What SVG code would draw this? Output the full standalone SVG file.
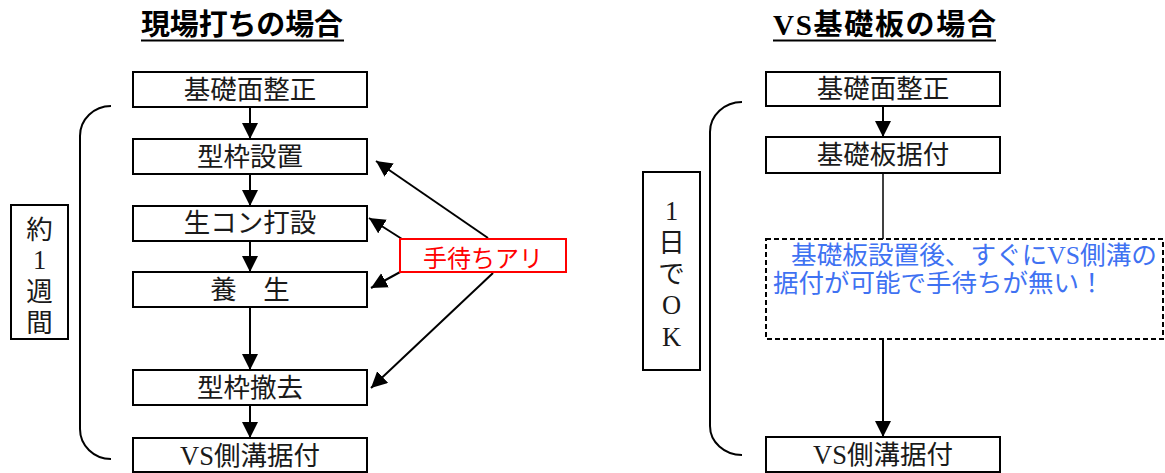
<svg xmlns="http://www.w3.org/2000/svg" width="1165" height="473" viewBox="0 0 1165 473">
<defs>
<style>
.box{fill:#fff;stroke:#000;stroke-width:2}
.t{font-family:"Liberation Serif","Noto Sans CJK JP",serif;font-size:26.5px;fill:#1a1a1a;text-anchor:middle}
.title{font-family:"Liberation Serif","Noto Sans CJK JP",sans-serif;font-weight:bold;font-size:29px;fill:#000}
.ln{stroke:#000;stroke-width:2;fill:none}
.red{font-family:"Liberation Serif","Noto Sans CJK JP",serif;font-size:24px;fill:#ff0000;text-anchor:middle}
.blue{font-family:"Liberation Serif","Noto Sans CJK JP",serif;font-size:25.5px;fill:#3f72f2}
</style>
<marker id="ah" markerUnits="userSpaceOnUse" markerWidth="17" markerHeight="17" refX="16" refY="8" orient="auto">
<path d="M0,0 L16,8 L0,16 z" fill="#000"/>
</marker>
</defs>
<rect width="1165" height="473" fill="#fff"/>

<g id="title-left">
<text class="title" x="141" y="35" textLength="202" lengthAdjust="spacing">現場打ちの場合</text>
<line x1="141" y1="40.5" x2="344" y2="40.5" stroke="#000" stroke-width="2"/>
</g>
<g id="title-right">
<text class="title" x="773" y="35" textLength="223" lengthAdjust="spacing">VS基礎板の場合</text>
<line x1="773" y1="40.5" x2="996" y2="40.5" stroke="#000" stroke-width="2"/>
</g>

<g id="connectors">
<line class="ln" x1="250" y1="107" x2="250" y2="139" marker-end="url(#ah)"/>
<line class="ln" x1="250" y1="174" x2="250" y2="206" marker-end="url(#ah)"/>
<line class="ln" x1="250" y1="241" x2="250" y2="272" marker-end="url(#ah)"/>
<line class="ln" x1="250" y1="307" x2="250" y2="370" marker-end="url(#ah)"/>
<line class="ln" x1="250" y1="405" x2="250" y2="438" marker-end="url(#ah)"/>
<line class="ln" x1="488" y1="238" x2="376" y2="161" marker-end="url(#ah)"/>
<line class="ln" x1="402" y1="239" x2="369" y2="218" marker-end="url(#ah)"/>
<line class="ln" x1="402" y1="271" x2="371" y2="288" marker-end="url(#ah)"/>
<line class="ln" x1="493" y1="273" x2="371" y2="388" marker-end="url(#ah)"/>
<line class="ln" x1="883" y1="106" x2="883" y2="137" marker-end="url(#ah)"/>
<line x1="883" y1="173" x2="883" y2="239" stroke="#000" stroke-width="1.5"/>
<line class="ln" x1="883" y1="339" x2="883" y2="437" marker-end="url(#ah)"/>
<path class="ln" d="M111,106 A31,30 0 0 0 80,136 L80,429 A31,30 0 0 0 111,459"/>
<path class="ln" d="M742,102 A32,30 0 0 0 710,132 L710,426 A32,29 0 0 0 742,455"/>
</g>

<g id="l1"><rect class="box" x="133" y="72" width="234" height="35"/><text class="t" x="250" y="98.5">基礎面整正</text></g>
<g id="l2"><rect class="box" x="133" y="139" width="234" height="35"/><text class="t" x="250" y="165.5">型枠設置</text></g>
<g id="l3"><rect class="box" x="133" y="206" width="234" height="35"/><text class="t" x="250" y="232">生コン打設</text></g>
<g id="l4"><rect class="box" x="133" y="272" width="234" height="35"/><text class="t" x="250" y="298.5">養　生</text></g>
<g id="l5"><rect class="box" x="133" y="370" width="234" height="35"/><text class="t" x="250" y="396.5">型枠撤去</text></g>
<g id="l6"><rect class="box" x="133" y="438" width="234" height="34"/><text class="t" x="250" y="464.5">VS側溝据付</text></g>

<g id="week">
<rect class="box" x="11" y="205" width="57" height="134"/>
<text class="t" x="39.5" y="239">約</text>
<text class="t" x="39.5" y="269">1</text>
<text class="t" x="39.5" y="301">週</text>
<text class="t" x="39.5" y="332">間</text>
</g>

<g id="wait">
<rect x="400" y="239" width="166" height="33" fill="#fff" stroke="#ff0000" stroke-width="2"/>
<text class="red" x="483" y="267">手待ちアリ</text>
</g>

<g id="r1"><rect class="box" x="766" y="72" width="234" height="34"/><text class="t" x="883" y="98">基礎面整正</text></g>
<g id="r2"><rect class="box" x="766" y="137" width="234" height="36"/><text class="t" x="883" y="164">基礎板据付</text></g>
<g id="r3"><rect class="box" x="766" y="437" width="234" height="35"/><text class="t" x="883" y="463.5">VS側溝据付</text></g>

<g id="day">
<rect class="box" x="643" y="172" width="57" height="198"/>
<text class="t" x="671.5" y="220">1</text>
<text class="t" x="671.5" y="252">日</text>
<text class="t" x="671.5" y="283">で</text>
<text class="t" x="671.5" y="314">O</text>
<text class="t" x="671.5" y="346">K</text>
</g>

<g id="note">
<rect x="766" y="239" width="397" height="100" fill="#fff" stroke="#000" stroke-width="2" stroke-dasharray="5,3"/>
<text class="blue" x="791" y="264" textLength="366" lengthAdjust="spacingAndGlyphs">基礎板設置後、すぐにVS側溝の</text>
<text class="blue" x="773" y="292">据付が可能で手待ちが無い！</text>
</g>
</svg>
